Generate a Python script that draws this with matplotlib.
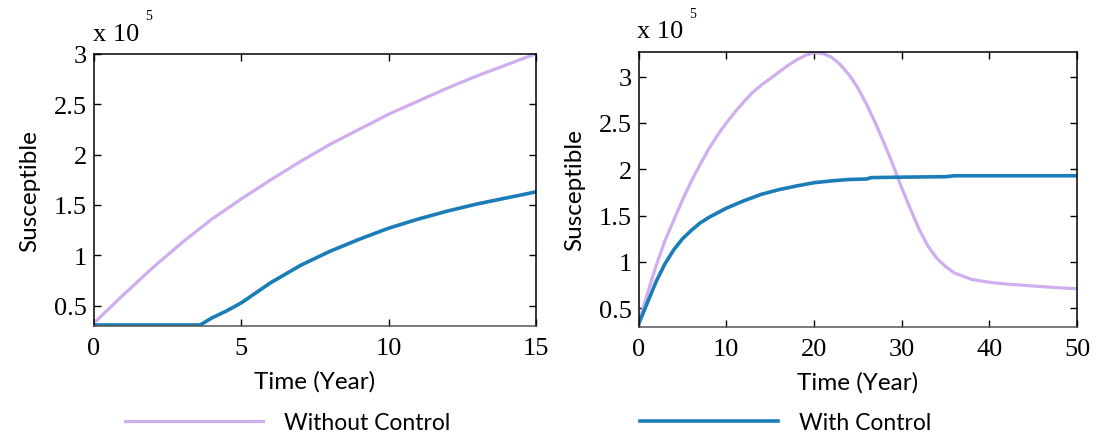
import numpy as np
import matplotlib.pyplot as plt

# left panel (0-15 years), values in units of 1e5
t_left = [0, 1, 2, 3, 4, 5, 6, 7, 8, 9, 10, 11, 12, 13, 14, 15]
without_left = [0.33, 0.61, 0.88, 1.13, 1.36, 1.56, 1.75, 1.93, 2.10, 2.25,
                2.40, 2.53, 2.66, 2.78, 2.89, 3.00]
t_left_ctrl = [0, 1, 2, 3, 3.6, 4, 4.5, 5, 5.5, 6, 7, 8, 9, 10, 11, 12, 13, 14, 15]
with_left = [0.31, 0.31, 0.31, 0.31, 0.31, 0.38, 0.45, 0.53, 0.63, 0.73, 0.90,
             1.04, 1.16, 1.27, 1.36, 1.44, 1.51, 1.57, 1.63]

# right panel (0-50 years)
t_right = [0, 1, 2, 3, 4, 5, 6, 7, 8, 9, 10, 11, 12, 13, 14, 15, 16, 17, 18,
           19, 20, 21, 22, 23, 24, 25, 26, 27, 28, 29, 30, 31, 32, 33, 34, 35,
           36, 38, 40, 42, 45, 48, 50]
without_right = [0.33, 0.66, 0.96, 1.23, 1.45, 1.67, 1.87, 2.05, 2.22, 2.37,
                 2.50, 2.62, 2.73, 2.83, 2.91, 2.98, 3.05, 3.12, 3.18, 3.23,
                 3.26, 3.25, 3.21, 3.13, 3.02, 2.88, 2.70, 2.50, 2.28, 2.05,
                 1.80, 1.57, 1.35, 1.17, 1.04, 0.95, 0.88, 0.81, 0.78, 0.76,
                 0.74, 0.72, 0.71]
t_right_ctrl = [0, 1, 2, 3, 4, 5, 6, 7, 8, 9, 10, 12, 14, 16, 18, 20, 22, 24,
                26, 26.5, 30, 35, 36, 50]
with_right = [0.33, 0.56, 0.79, 0.98, 1.13, 1.25, 1.34, 1.42, 1.48, 1.53, 1.58,
              1.66, 1.73, 1.78, 1.82, 1.855, 1.875, 1.89, 1.895, 1.91, 1.915,
              1.92, 1.93, 1.93]

lav = "#CFAEF0"
blue = "#1B7DB8"
serif = "Liberation Serif"
sans = "Lato"

fig = plt.figure(figsize=(10.97, 4.39), dpi=100)
ax1 = fig.add_axes([0.0857, 0.2551, 0.4029, 0.6203])
ax2 = fig.add_axes([0.5822, 0.2535, 0.3996, 0.6265])

l1, = ax1.plot(t_left, without_left, color=lav, lw=2.3)
l2, = ax1.plot(t_left_ctrl, with_left, color=blue, lw=2.6)
ax2.plot(t_right, without_right, color=lav, lw=2.3)
ax2.plot(t_right_ctrl, with_right, color=blue, lw=2.6)

ax1.set_xlim(0, 15)
ax1.set_ylim(0.3, 3.0)
ax1.set_xticks([0, 5, 10, 15])
ax2.set_xlim(0, 50)
ax2.set_ylim(0.3, 3.27)
ax2.set_xticks([0, 10, 20, 30, 40, 50])

for ax in (ax1, ax2):
    ax.set_yticks([0.5, 1, 1.5, 2, 2.5, 3])
    ax.set_yticklabels(['0.5', '1', '1.5', '2', '2.5', '3'])
    ax.tick_params(direction='in', length=5, width=1, top=True, right=True,
                   labelsize=19)
    ax.tick_params(axis='x', pad=8)
    ax.tick_params(axis='y', pad=5)
    for lab in ax.get_xticklabels() + ax.get_yticklabels():
        lab.set_fontfamily(serif)
    for s in ax.spines.values():
        s.set_linewidth(1.1)
    ax.spines['bottom'].set_color('#555555')
    ax.set_xlabel('Time (Year)', fontsize=17.5, family=sans, labelpad=8)
    ax.set_ylabel('Susceptible', fontsize=17.5, family=sans, labelpad=10)

# multiplier text
fig.text(93 / 1097, 1 - 35 / 439, 'x 10', fontsize=19, family=serif,
         ha='left', va='center')
fig.text(145 / 1097, 1 - 17 / 439, '5', fontsize=10, family=serif,
         ha='left', va='center')
fig.text(637 / 1097, 1 - 32 / 439, 'x 10', fontsize=19, family=serif,
         ha='left', va='center')
fig.text(689 / 1097, 1 - 14 / 439, '5', fontsize=10, family=serif,
         ha='left', va='center')

leg_kw = dict(frameon=False, handlelength=6.0, handletextpad=0.95,
              borderpad=0, borderaxespad=0, prop={'family': sans, 'size': 16.5})
fig.legend([l1], ['Without Control'], loc='center left',
           bbox_to_anchor=(125 / 1097, 1 - 424 / 439), **leg_kw)
fig.legend([l2], ['With Control'], loc='center left',
           bbox_to_anchor=(640 / 1097, 1 - 424 / 439), **leg_kw)

fig.savefig('out.png', dpi=100)
